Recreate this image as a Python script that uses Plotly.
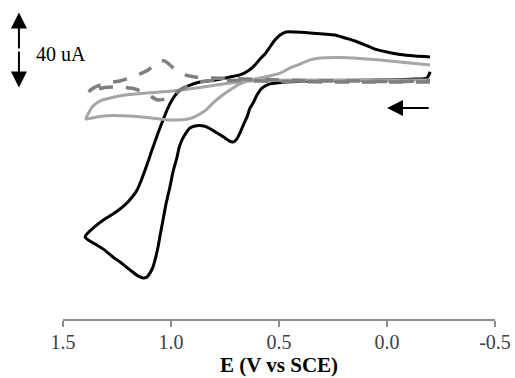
import plotly.graph_objects as go

# Cyclic voltammograms, potential in V vs SCE, current in uA
E_black = [-0.200, -0.185, -0.130, 0.032, 0.218, 0.403, 0.472, 0.542, 0.579, 0.602,
           0.620, 0.634, 0.648, 0.667, 0.681, 0.699, 0.713, 0.731, 0.750, 0.787,
           0.833, 0.866, 0.889, 0.912, 0.931, 0.949, 0.963, 0.972, 0.991, 1.005,
           1.023, 1.037, 1.051, 1.060, 1.074, 1.083, 1.097, 1.111, 1.130, 1.153,
           1.190, 1.236, 1.269, 1.315, 1.352, 1.384, 1.398, 1.389, 1.375, 1.343,
           1.306, 1.269, 1.236, 1.204, 1.176, 1.157, 1.139, 1.120, 1.102, 1.083,
           1.060, 1.037, 1.014, 0.995, 0.972, 0.944, 0.912, 0.866, 0.796, 0.727,
           0.681, 0.644, 0.611, 0.588, 0.565, 0.542, 0.519, 0.495, 0.468, 0.426,
           0.356, 0.296, 0.241, 0.194, 0.148, 0.102, 0.056, 0.000, -0.060, -0.130,
           -0.199]
I_black = [4.3, 1.1, 0.5, 0.0, -0.3, -0.5, -1.1, -2.1, -4.3, -8.0,
           -12.3, -14.9, -19.7, -24.5, -28.3, -32.0, -33.1, -32.5, -30.9, -28.3,
           -25.1, -24.3, -24.5, -25.6, -28.3, -32.0, -36.3, -41.1, -49.1, -57.1,
           -66.1, -74.7, -83.2, -89.1, -96.0, -99.7, -102.9, -105.1, -105.6, -104.5,
           -101.3, -97.1, -94.4, -90.1, -87.5, -85.3, -83.7, -82.1, -80.5, -77.3,
           -74.1, -71.5, -68.8, -65.6, -61.9, -58.7, -53.9, -48.0, -42.1, -35.7,
           -28.3, -21.3, -14.9, -10.7, -6.9, -4.3, -2.7, -1.1, 0.0, 1.6,
           2.7, 4.8, 8.0, 11.2, 13.9, 17.6, 21.3, 24.0, 25.6, 25.6,
           25.1, 24.5, 24.0, 22.4, 20.8, 18.7, 16.5, 14.9, 13.6, 12.8,
           12.3]

E_gray = [-0.199, -0.060, 0.171, 0.403, 0.588, 0.681, 0.773, 0.866, 0.991, 1.111,
          1.213, 1.282, 1.329, 1.361, 1.384, 1.394, 1.366, 1.329, 1.269, 1.190,
          1.111, 1.051, 1.014, 0.972, 0.935, 0.898, 0.866, 0.833, 0.806, 0.773,
          0.741, 0.713, 0.681, 0.634, 0.565, 0.495, 0.449, 0.403, 0.356, 0.310,
          0.218, 0.125, 0.032, -0.060, -0.130, -0.199]
I_gray = [0.0, 0.0, 0.0, 0.0, -0.3, -1.1, -2.4, -4.0, -5.9, -6.9,
          -8.0, -9.6, -11.2, -13.9, -18.1, -20.8, -20.3, -19.5, -18.9, -19.2,
          -20.0, -20.8, -21.3, -21.3, -21.1, -20.0, -18.1, -15.5, -12.3, -9.1,
          -6.4, -4.3, -2.1, 0.0, 1.6, 3.7, 6.4, 8.5, 10.7, 11.7,
          12.0, 11.5, 10.7, 9.6, 8.8, 8.0]

E_dash = [-0.199, 0.171, 0.495, 0.681, 0.796, 0.866, 0.912, 0.958, 0.995, 1.028,
          1.060, 1.097, 1.130, 1.167, 1.213, 1.259, 1.306, 1.352, 1.384, 1.366,
          1.329, 1.282, 1.236, 1.190, 1.144, 1.106, 1.074, 1.051, 1.028, 1.005,
          0.972, 0.935, 0.889, 0.819, 0.727, 0.588, 0.403, 0.171, -0.060, -0.199]
I_dash = [-1.1, -1.1, -0.8, -0.3, -0.3, -1.1, -2.7, -5.3, -8.0, -10.1,
          -10.7, -8.5, -6.4, -4.8, -4.0, -3.7, -4.0, -5.3, -6.9, -4.8,
          -2.7, -1.3, -0.5, 1.1, 3.2, 5.3, 8.5, 10.1, 10.1, 8.0,
          4.8, 2.7, 1.6, 1.1, 0.8, 0.3, -0.3, -0.5, -0.8, -0.5]

tick_vals = [1.5, 1.0, 0.5, 0.0, -0.5]
tick_text = ["1.5", "1.0", "0.5", "0.0", "-0.5"]
x_title = "<b>E (V vs SCE)</b>"

# scale bar (uA) and scan-direction arrow (V, uA)
scale_top = 36.0
scale_len = 40.0
scale_label = "40 uA"
scan_arrow_E = [0.0, -0.2]
scan_arrow_I = -15.0

SERIF = "Liberation Serif, Times New Roman, serif"

fig = go.Figure()
fig.add_trace(go.Scatter(x=E_black, y=I_black, mode="lines",
                         line=dict(color="#000000", width=3, shape="spline", smoothing=0.6)))
fig.add_trace(go.Scatter(x=E_gray, y=I_gray, mode="lines",
                         line=dict(color="#a6a6a6", width=3, shape="spline", smoothing=0.6)))
fig.add_trace(go.Scatter(x=E_dash, y=I_dash, mode="lines",
                         line=dict(color="#7f7f7f", width=3.5, dash="14px,13px",
                                   shape="spline", smoothing=0.6)))

y_lo, y_hi = -127.5, 42.67
x_lo, x_hi = 1.5, -0.5
bar_x = -0.102  # paper units, left of the plot area
bar_mid = scale_top - scale_len / 2
half_px = (scale_len / 2) / (y_hi - y_lo) * 319

annotations = [
    dict(xref="paper", yref="y", x=bar_x, y=scale_top, ax=0, ay=half_px,
         showarrow=True, arrowhead=2, arrowsize=1.6, arrowwidth=2, arrowcolor="#000", text=""),
    dict(xref="paper", yref="y", x=bar_x, y=scale_top - scale_len, ax=0, ay=-half_px,
         showarrow=True, arrowhead=2, arrowsize=1.6, arrowwidth=2, arrowcolor="#000", text=""),
    dict(xref="paper", yref="y", x=-0.066, y=bar_mid - 2, xanchor="left", yanchor="middle",
         showarrow=False, text=scale_label, font=dict(family=SERIF, size=20, color="#000")),
    dict(xref="x", yref="y", axref="x", ayref="y", x=scan_arrow_E[0], y=scan_arrow_I,
         ax=scan_arrow_E[1], ay=scan_arrow_I, showarrow=True, arrowhead=2, arrowsize=1.6,
         arrowwidth=2, arrowcolor="#000", text=""),
    # axis title along the bottom edge, under the tick labels
    dict(xref="paper", yref="paper", x=0.5, y=-0.189, xanchor="center", yanchor="bottom",
         showarrow=False, text=x_title, font=dict(family=SERIF, size=21, color="#000")),
]

fig.update_layout(
    width=515, height=378,
    margin=dict(l=63, r=20, t=0, b=59),
    paper_bgcolor="white", plot_bgcolor="white",
    showlegend=False,
    annotations=annotations,
    xaxis=dict(range=[x_lo, x_hi], showgrid=False, zeroline=False,
               showline=True, linecolor="#8c8c8c", linewidth=1.5,
               ticks="outside", ticklen=6, tickwidth=1.5, tickcolor="#8c8c8c",
               tickvals=tick_vals, ticktext=tick_text, ticklabelstandoff=-2,
               tickfont=dict(family=SERIF, size=20, color="#404040")),
    yaxis=dict(range=[y_lo, y_hi], visible=False),
)

fig.write_html("out.html")
